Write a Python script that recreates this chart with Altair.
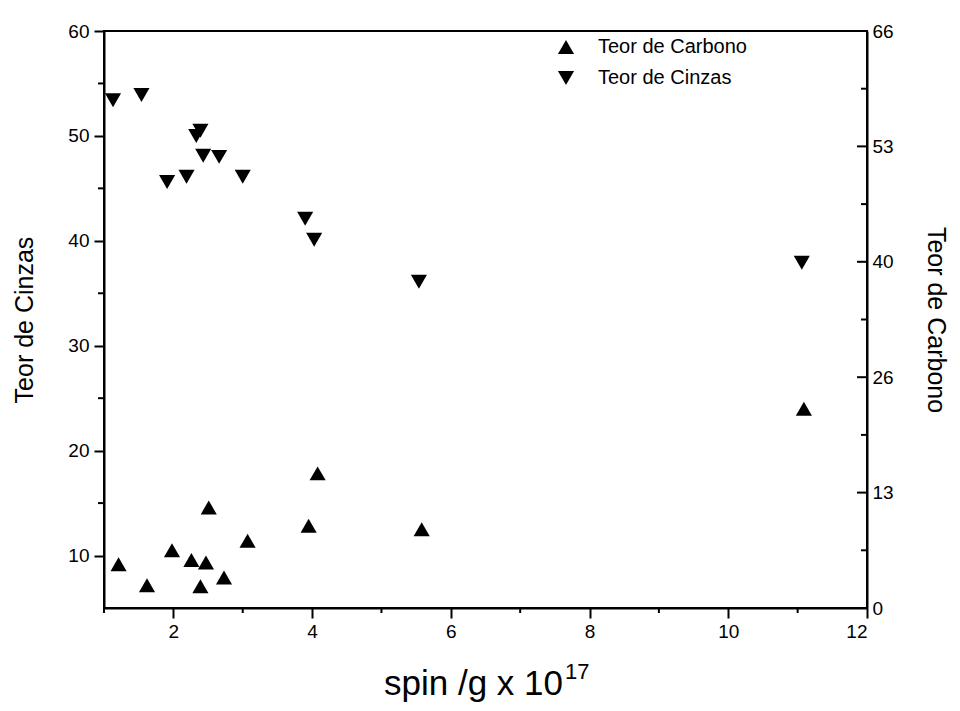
import altair as alt
import pandas as pd

# ---- data ----
# Teor de Cinzas (down triangles, left axis)
cinzas_x = [1.13, 1.54, 2.33, 2.39, 2.43, 2.66, 1.91, 2.19, 3.00, 3.90, 4.03, 5.54, 11.06]
cinzas_y = [53.4, 53.9, 50.0, 50.5, 48.1, 48.0, 45.6, 46.1, 46.1, 42.1, 40.1, 36.1, 37.9]

# Teor de Carbono (up triangles, right axis)
carbono_x = [1.21, 1.62, 1.98, 2.26, 2.47, 2.39, 2.51, 2.73, 3.07, 3.95, 4.08, 5.58, 11.09]
carbono_y = [5.0, 2.6, 6.6, 5.5, 5.2, 2.5, 11.5, 3.5, 7.7, 9.4, 15.4, 9.0, 22.8]

series = ["Teor de Carbono", "Teor de Cinzas"]

# axis ticks
x_major = [2, 4, 6, 8, 10, 12]
x_minor = [1, 3, 5, 7, 9, 11]
left_major = [10, 20, 30, 40, 50, 60]
left_minor = [15, 25, 35, 45, 55]
right_major = [0, 13.2, 26.4, 39.6, 52.8, 66]
right_minor = [6.6, 19.8, 33.0, 46.2, 59.4]

W, H = 763, 577
FONT = "Liberation Sans"

xs = alt.Scale(domain=[1, 12], nice=False, zero=False)
yl = alt.Scale(domain=[5, 60], nice=False, zero=False)
yr = alt.Scale(domain=[0, 66], nice=False, zero=False)
shape_scale = alt.Scale(domain=series, range=["triangle-up", "triangle-down"])

ax_x = alt.Axis(values=x_major, title=None, tickSize=10, labelPadding=4, labelFontSize=19)
ax_yl = alt.Axis(values=left_major, title="Teor de Cinzas", orient="left",
                 tickSize=10, labelPadding=5, labelFontSize=19,
                 titleFont=FONT, titleFontSize=25, titlePadding=30, titleFontWeight="normal")
ax_yr = alt.Axis(values=right_major, orient="right", ticks=False,
                 labelExpr="'' + round(datum.value)",
                 labelPadding=5, labelFontSize=19,
                 title="Teor de Carbono", titleFont=FONT, titleFontSize=25,
                 titlePadding=29, titleFontWeight="normal")

df_cin = pd.DataFrame({"x": cinzas_x, "y": cinzas_y, "serie": series[1]})
df_car = pd.DataFrame({"x": carbono_x, "y": carbono_y, "serie": series[0]})

legend = alt.Legend(
    orient="none", legendX=452, legendY=6, title=None,
    labelFontSize=20, labelFont=FONT, labelColor="black",
    symbolSize=260, symbolStrokeWidth=0, symbolFillColor="black",
    labelOffset=22, rowPadding=11, padding=0,
)

cin = alt.Chart(df_cin).mark_point(filled=True, color="black", size=260, opacity=1).encode(
    x=alt.X("x:Q", scale=xs, axis=ax_x),
    y=alt.Y("y:Q", scale=yl, axis=ax_yl),
    shape=alt.Shape("serie:N", scale=shape_scale, legend=legend),
)

lmin = alt.Chart(pd.DataFrame({"v": left_minor})).mark_rule(color="black", strokeWidth=2).encode(
    y=alt.Y("v:Q", scale=yl, axis=ax_yl), x=alt.value(-6), x2=alt.value(0))

bmin = alt.Chart(pd.DataFrame({"v": x_minor})).mark_rule(color="black", strokeWidth=2).encode(
    x=alt.X("v:Q", scale=xs, axis=ax_x), y=alt.value(H), y2=alt.value(H + 5))

xt1 = alt.Chart(pd.DataFrame({"t": ["spin /g x 10"]})).mark_text(
    font=FONT, fontSize=35, align="right", baseline="alphabetic", color="black").encode(
    text="t:N", x=alt.value(459), y=alt.value(664))
xt2 = alt.Chart(pd.DataFrame({"t": ["17"]})).mark_text(
    font=FONT, fontSize=22, align="left", baseline="alphabetic", color="black").encode(
    text="t:N", x=alt.value(461), y=alt.value(648))

car = alt.Chart(df_car).mark_point(filled=True, color="black", size=260, opacity=1).encode(
    x=alt.X("x:Q", scale=xs, axis=ax_x),
    y=alt.Y("y:Q", scale=yr, axis=ax_yr),
    shape=alt.Shape("serie:N", scale=shape_scale, legend=legend),
)

rmaj = alt.Chart(pd.DataFrame({"v": right_major})).mark_rule(color="black", strokeWidth=2).encode(
    y=alt.Y("v:Q", scale=yr, axis=ax_yr), x=alt.value(W - 10), x2=alt.value(W))
rmin = alt.Chart(pd.DataFrame({"v": right_minor})).mark_rule(color="black", strokeWidth=2).encode(
    y=alt.Y("v:Q", scale=yr, axis=ax_yr), x=alt.value(W - 6), x2=alt.value(W))

left_layer = alt.layer(cin, lmin, bmin, xt1, xt2)
right_layer = alt.layer(car, rmaj, rmin)

chart = alt.layer(left_layer, right_layer).resolve_scale(y="independent").properties(
    width=W, height=H,
    autosize=alt.AutoSizeParams(type="none"),
    padding={"left": 96, "top": 23, "right": 85, "bottom": 95},
    background="white",
).configure_view(stroke="black", strokeWidth=2).configure_axis(
    grid=False, domainColor="black", domainWidth=2, tickColor="black", tickWidth=2,
    labelColor="black", titleColor="black", labelFont=FONT,
).configure_text(font=FONT)

chart.save("out.html", embed_options={"renderer": "svg", "actions": False})
